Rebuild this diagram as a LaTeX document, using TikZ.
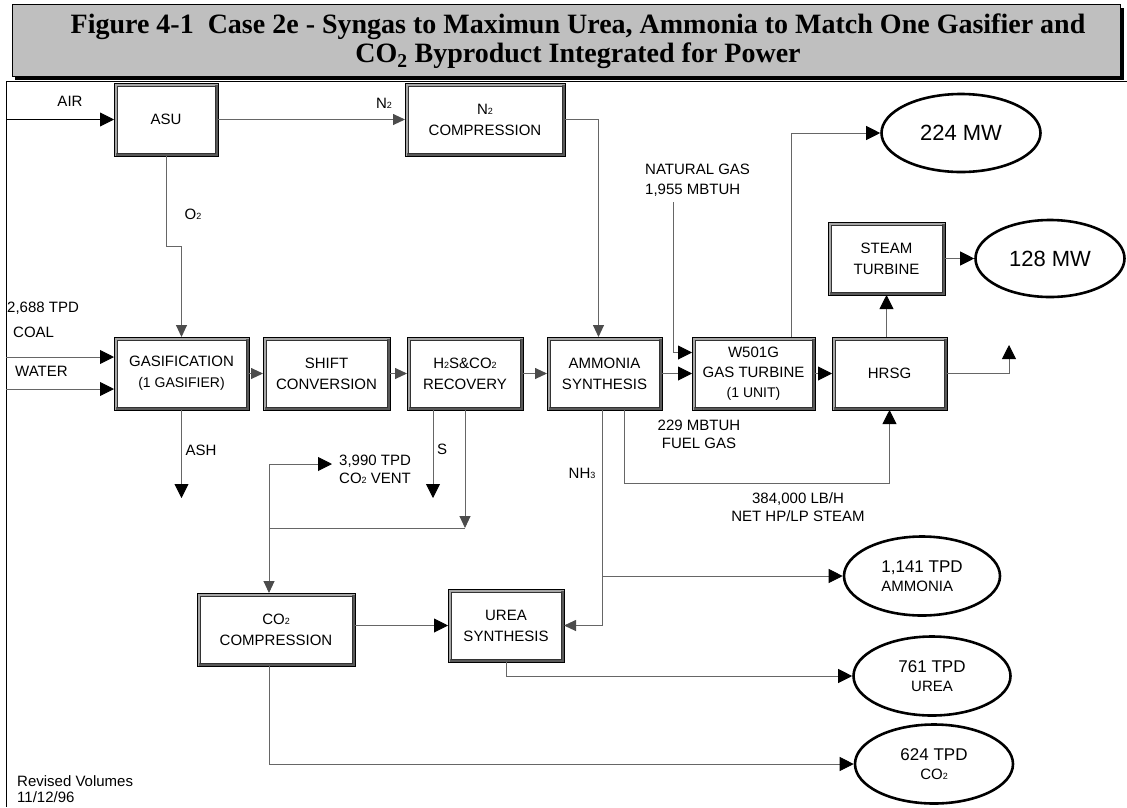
\documentclass[tikz,border=0pt]{standalone}
\usepackage{fontspec}
\setmainfont{Liberation Sans}
\newfontfamily\titlefont{Liberation Serif}
\usetikzlibrary{arrows.meta,shapes.geometric}
\newcommand{\lowtwo}[1]{{\fontsize{9}{9}\selectfont #1}}

\tikzset{
  unit/.style={rectangle, draw=black!35, line width=3pt, fill=white, minimum height=70pt,
    align=center, inner sep=1pt, font=\fontsize{15}{21}\selectfont},
  product/.style={ellipse, draw, line width=2.6pt, align=center, inner sep=0pt,
    font=\fontsize{15}{19}\selectfont},
  label/.style={inner sep=0pt, align=left, font=\fontsize{15}{18}\selectfont},
  flow/.style={black!60, line width=0.9pt},
  head/.style={-{Triangle[length=14pt,width=14pt,color=black]}},
  hatch/.style={-{Triangle[length=12pt,width=11pt,color=black!70]}},
}

\begin{document}
\begin{tikzpicture}[x=1pt,y=-1pt]
\useasboundingbox (0,0) rectangle (1127,807);

% title bar
\fill (15,8) rectangle (1124,80);
\draw[fill=black!25, line width=1pt] (12,4) rectangle (1120,76);
\node[font=\titlefont\bfseries\fontsize{28}{30}\selectfont] (title1) at (578,27)
  {Figure 4-1\ \ Case 2e - Syngas to Maximun Urea, Ammonia to Match One Gasifier and};
\node[font=\titlefont\bfseries\fontsize{28}{30}\selectfont] (title2) at (578,56)
  {CO\textsubscript{2} Byproduct Integrated for Power};

% frame
\draw[line width=0.8pt] (6,81) -- (6,807);
\draw[line width=0.8pt] (6,81) -- (1127,81);

% process units
\node[unit, minimum width=101pt] (asu) at (166,119.5) {ASU};
\node[unit, minimum width=157pt] (n2c) at (485,119.5) {N\lowtwo{2}\\COMPRESSION};
\node[unit, minimum width=132pt] (gas) at (181.5,373.5)
  {GASIFICATION\\{\fontsize{14}{14}\selectfont(1 GASIFIER)}};
\node[unit, minimum width=124pt] (shiftc) at (326.5,373.5) {SHIFT\\CONVERSION};
\node[unit, minimum width=113pt] (rec) at (465,373.5) {H\lowtwo{2}S\&CO\lowtwo{2}\\RECOVERY};
\node[unit, minimum width=112pt] (amm) at (604.5,373.5) {AMMONIA\\SYNTHESIS};
\node[unit, minimum width=120pt, font=\fontsize{15}{20}\selectfont] (gt) at (753.5,373.5)
  {W501G\\GAS TURBINE\\{\fontsize{14}{14}\selectfont(1 UNIT)}};
\node[unit, minimum width=112pt] (hrsg) at (889.5,373.5) {HRSG};
\node[unit, minimum width=114pt] (st) at (886.5,258.5) {STEAM\\TURBINE};
\node[unit, minimum width=155pt] (co2c) at (276,629.5) {CO\lowtwo{2}\\COMPRESSION};
\node[unit, minimum width=113pt] (urea) at (506,625.5) {UREA\\SYNTHESIS};

% bevel of the boxes
\foreach \b in {asu,n2c,gas,shiftc,rec,amm,gt,hrsg,st,co2c,urea}{
  \draw[black!65, line width=3pt] ([shift={(-1.5pt,-1.5pt)}]\b.north east)
    -- ([shift={(-1.5pt,1.5pt)}]\b.south east) -- ([shift={(1.5pt,1.5pt)}]\b.south west);
  \draw[line width=0.4pt] (\b.north west) rectangle (\b.south east);
  \draw[black!80, line width=0.4pt] ([shift={(3pt,-3pt)}]\b.north west)
    rectangle ([shift={(-3pt,3pt)}]\b.south east);
}

% products
\node[product, minimum width=159pt, minimum height=78pt, font=\fontsize{22}{24}\selectfont]
  (e224) at (961,133) {224 MW};
\node[product, minimum width=149pt, minimum height=77pt, font=\fontsize{22}{24}\selectfont]
  (e128) at (1050,258.5) {128 MW};
\node[product, minimum width=156pt, minimum height=79pt, align=left] (enh3) at (922,576)
  {{\fontsize{17}{19}\selectfont 1,141 TPD}\\AMMONIA};
\node[product, minimum width=157pt, minimum height=79pt] (eurea) at (932,676)
  {{\fontsize{17}{19}\selectfont 761 TPD}\\UREA};
\node[product, minimum width=158pt, minimum height=79pt] (eco2) at (934,764)
  {{\fontsize{17}{19}\selectfont 624 TPD}\\CO\lowtwo{2}};

% labels
\node[label] (lair) at (70,101) {AIR};
\node[label] (ln2) at (384,103) {N\lowtwo{2}};
\node[label] (lo2) at (193,214) {O\lowtwo{2}};
\node[label, anchor=west] (lcoal) at (7,308) {2,688 TPD};
\node[label, anchor=west] (lcoal2) at (13,332) {COAL};
\node[label, anchor=west] (lwater) at (15,371) {WATER};
\node[label] (lash) at (201,450) {ASH};
\node[label] (ls) at (442,449) {S};
\node[label, anchor=west, font=\fontsize{15}{18}\selectfont] (lvent) at (339,469)
  {3,990 TPD\\CO\lowtwo{2} VENT};
\node[label] (lnh3) at (582,473) {NH\lowtwo{3}};
\node[label, anchor=west, font=\fontsize{15}{20}\selectfont] (lng) at (645,180)
  {NATURAL GAS\\1,955 MBTUH};
\node[label, align=center] (lfuel) at (699,434) {229 MBTUH\\FUEL GAS};
\node[label, align=center] (lsteam) at (798,507) {384,000 LB/H\\NET HP/LP STEAM};
\node[label, anchor=west, font=\fontsize{15}{16}\selectfont] (lrev) at (17,789)
  {Revised Volumes\\11/12/96};

% free ends
\coordinate (airin) at (6,119.5);
\coordinate (coalin) at (6,357);
\coordinate (waterin) at (6,389);
\coordinate (ashout) at (181.5,498);
\coordinate (sout) at (433,498);
\coordinate (co2split) at (269,528);
\coordinate (ventout) at (332,464);
\coordinate (ngin) at (673,202);
\coordinate (stack) at (1009,345);
\coordinate (nh3jn) at (602.5,576);

% streams
\draw[flow, head, black] (airin) -- (asu.west);
\draw[flow, hatch] (asu.east) -- (n2c.west);
\draw[flow, hatch] (asu.south) -- ++(0,90) -| (gas.north);
\draw[flow, head] (coalin) -- (coalin -| gas.west);
\draw[flow, head] (waterin) -- (waterin -| gas.west);
\draw[flow, hatch] (gas.east) -- (shiftc.west);
\draw[flow, hatch] (shiftc.east) -- (rec.west);
\draw[flow, hatch] (rec.east) -- (amm.west);
\draw[flow, head] (gas.south) -- (ashout);
\draw[flow, head] ([xshift=-32pt]rec.south) -- (sout);
\draw[flow, hatch] (rec.south) -- (rec.south |- co2split);
\draw[flow] (rec.south |- co2split) -- (co2split);
\draw[flow, head] (co2split) |- (ventout);
\draw[flow, hatch] (co2split) -- (co2split |- co2c.north);
\draw[flow, hatch] (n2c.east) -| ([xshift=-6pt]amm.north);
\draw[flow, head] (ngin) |- ([yshift=21pt]gt.west);
\draw[flow, head] (amm.east) -- (gt.west);
\draw[flow, head] ([xshift=37.5pt]gt.north) |- (e224.west);
\draw[flow, head] (gt.east) -- (hrsg.west);
\draw[flow, head] (hrsg.north -| st.south) -- (st.south);
\draw[flow, head] (st.east) -- (e128.west);
\draw[flow, head] (hrsg.east) -| (stack);
\draw[flow, head] ([xshift=19.5pt]amm.south) -- ++(0,73) -| (hrsg.south);
\draw[flow, hatch] ([xshift=-2pt]amm.south) |- (urea.east);
\draw[flow, head] (nh3jn) -- (enh3.west);
\draw[flow, head] (urea.west -| co2c.east) -- (urea.west);
\draw[flow, head] (urea.south) |- (eurea.west);
\draw[flow, head] ([xshift=-7pt]co2c.south) |- (eco2.west);
\end{tikzpicture}
\end{document}
